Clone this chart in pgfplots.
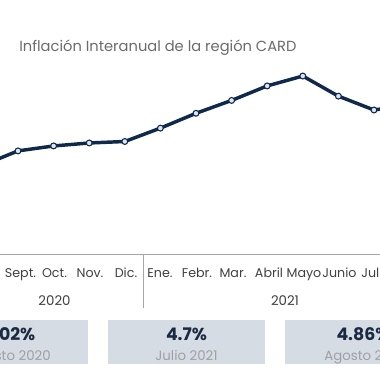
\documentclass[border=0pt]{standalone}
\usepackage{pgfplots}
\pgfplotsset{compat=1.18}
\usepackage{fontspec}
\setmainfont{Poppins}
\definecolor{navy}{HTML}{10284A}
\definecolor{mk}{HTML}{DCE6F2}
\definecolor{boxc}{HTML}{D6DCE4}
\definecolor{tgray}{HTML}{6B6B6B}
\definecolor{mgray}{HTML}{404040}
\definecolor{lgray}{HTML}{A0A0A0}
\definecolor{rulec}{HTML}{A6A6A6}
\definecolor{numc}{HTML}{1B2A41}
\begin{document}
\begin{tikzpicture}
\useasboundingbox (0,0) rectangle (285pt,285pt);
\clip (0,0) rectangle (285pt,285pt);
\fill[white] (0,0) rectangle (285pt,285pt);
\begin{scope}[x=0.75pt,y=-0.75pt,yshift=285pt]
% title
\node[anchor=base west, inner sep=0pt, text=tgray, font=\fontsize{11}{13}\selectfont] at (19,51) {Inflación Interanual de la región CARD};
% boxes
\fill[boxc] (-69,320) rectangle (88,364);
\fill[boxc] (108,320) rectangle (265,364);
\fill[boxc] (285,320) rectangle (442,364);
\begin{scope}[every node/.style={inner sep=0pt, anchor=base}]
\node[text=numc, font=\fontsize{13}{15}\selectfont\bfseries] at (9.5,340.5) {3.02\%};
\node[text=numc, font=\fontsize{13}{15}\selectfont\bfseries] at (186.5,340.5) {4.7\%};
\node[text=numc, font=\fontsize{13}{15}\selectfont\bfseries] at (363.5,340.5) {4.86\%};
\node[text=lgray, font=\fontsize{10}{12}\selectfont] at (9.5,360) {Agosto 2020};
\node[text=lgray, font=\fontsize{10}{12}\selectfont] at (186.5,360) {Julio 2021};
\node[text=lgray, font=\fontsize{10}{12}\selectfont] at (363.5,360) {Agosto 2021};
% month labels
\foreach \xx/\lab in {20.5/Sept., 54.5/Oct., 90/Nov., 126/Dic., 160/Ene., 197/Febr., 233/Mar., 269/Abril, 304/Mayo, 339.5/Junio, 376/Julio}
  \node[text=mgray, font=\fontsize{9.5}{11}\selectfont] at (\xx,277) {\lab};
\node[text=mgray, font=\fontsize{10}{12}\selectfont] at (54.5,305.5) {2020};
\node[text=mgray, font=\fontsize{10}{12}\selectfont] at (285,305.5) {2021};
\end{scope}
% rules
\draw[rulec, line width=0.75pt] (0,254.5) -- (380,254.5);
\draw[rulec, line width=0.75pt] (143.5,254.5) -- (143.5,308);
\end{scope}
\begin{axis}[at={(0,0)}, anchor=south west, scale only axis,
  width=285pt, height=285pt,
  xmin=0.4944, xmax=11.169, ymin=-3.486, ymax=8.035,
  hide axis, clip=false]
\addplot[navy, line width=2.6pt, mark=*, mark size=2.2pt,
  mark options={fill=mk, draw=navy, line width=0.8pt}] coordinates {
  (0,3.02) (1,3.46) (2,3.61) (3,3.70) (4,3.745) (5,4.15) (6,4.60)
  (7,4.99) (8,5.43) (9,5.73) (10,5.12) (11,4.70) (12,4.86)};
\end{axis}
\end{tikzpicture}
\end{document}
